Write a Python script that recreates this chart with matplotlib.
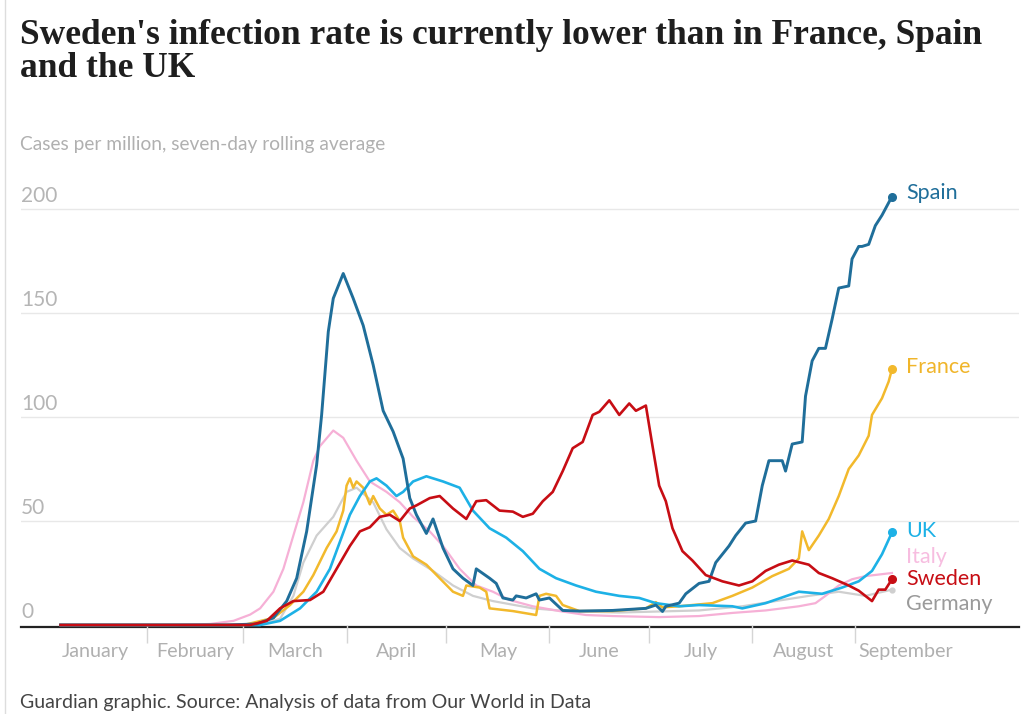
import numpy as np
import matplotlib
matplotlib.use("Agg")
import matplotlib.pyplot as plt
from matplotlib.lines import Line2D

# days counted from 1 January 2020, values = cases per million (7-day avg)
spain_day = [5, 55, 64, 69, 73, 76, 79, 82, 83.5, 85.5,
             87, 90, 93, 96, 99, 102, 105, 108, 110, 112,
             115, 117, 120, 123, 126, 129, 130, 134, 136, 138,
             141, 142, 145, 148, 149, 152, 156, 161, 171, 181,
             184, 186, 187, 191, 193, 197, 200, 202, 204, 206,
             208, 211, 214, 216, 218, 222, 223, 225, 228, 229,
             231, 233, 235, 237, 239, 242, 243, 245, 246, 248,
             250, 252, 255]
spain_val = [0, 0, 0.5, 3.4, 11.5, 22.5, 45, 77, 101, 141,
             157, 169, 157, 144, 125, 103, 93, 80, 61, 53,
             44, 51, 37, 27, 22.5, 19, 27, 22.5, 20, 13,
             12, 14, 13, 15, 12, 13, 7, 6.7, 7, 8,
             9.6, 6.5, 9, 10.5, 15, 20, 21, 30, 34, 38,
             43, 49, 50, 67, 79, 79, 74, 87, 88, 110,
             127, 133, 133, 147, 162, 163, 176, 182, 182, 183,
             192, 197, 206]

italy_day = [5, 40, 50, 57, 62, 65, 69, 72, 75, 78,
             81, 83, 87, 90, 94, 98, 103, 107, 111, 116,
             120, 125, 130, 135, 140, 147, 155, 163, 171, 179,
             185, 197, 207, 217, 227, 232, 235, 239, 243, 247,
             255]
italy_val = [0, 0, 0.5, 2, 5, 8, 16, 27, 43, 59,
             79, 86, 93.5, 90, 79, 69, 64, 59, 52, 45,
             38, 27, 19, 16, 12, 9, 6.7, 4.8, 4.3, 4,
             3.8, 4.3, 5.8, 7, 9, 10.5, 14, 19, 22, 23.5,
             25]

germany_day = [5, 65, 71, 75, 78, 82, 87, 91, 94, 99,
               103, 107, 111, 117, 123, 129, 135, 147, 157, 173,
               197, 210, 222, 230, 239, 247, 255]
germany_val = [0, 0, 3, 14, 30, 43, 52, 64, 66, 59,
               46, 37, 32, 26, 19, 14, 11.5, 8, 6.7, 6,
               7, 9, 12, 14, 16, 14, 17]

france_day = [5, 60, 69, 74, 78, 81, 85, 88, 90, 91,
              92, 93, 94, 96, 98, 99, 101, 103, 105, 107,
              108, 111, 115, 119, 123, 126, 127, 131, 133, 134,
              141, 148, 149, 151, 154, 156, 161, 171, 181, 184,
              186, 191, 201, 207, 213, 219, 224, 227, 228, 230,
              233, 236, 239, 242, 245, 248, 249, 252, 254, 255]
france_val = [0, 0, 3.4, 9.6, 16, 24, 37, 45, 55, 67,
              70.5, 66, 69, 66, 58, 62, 56, 53, 55, 50,
              42, 33, 29, 22.5, 16, 14, 19, 18, 16, 8,
              6.7, 4.8, 14, 15, 14, 9.6, 6.7, 6.7, 8, 11,
              8.5, 9, 10.5, 14, 18, 23.5, 27, 32, 45, 36,
              43, 51, 62, 75, 81.5, 91, 101, 109, 117, 123]

uk_day = [5, 65, 71, 77, 82, 86, 89, 92, 95, 98,
          100, 103, 106, 108, 111, 115, 120, 125, 129, 134,
          139, 144, 149, 154, 160, 166, 173, 179, 184, 191,
          197, 207, 210, 217, 227, 234, 240, 245, 249, 252,
          255]
uk_val = [0, 0, 2, 8, 16, 27, 40, 53, 62, 69,
          70.5, 67, 62, 64, 69, 71.5, 69, 66, 55, 46.5,
          42, 35.5, 27, 22.5, 19, 16, 14, 13, 10.5, 9,
          9.6, 9, 8, 10.5, 16, 15, 18, 21, 26, 34,
          44.5]

sweden_day = [5, 62, 67, 71, 75, 80, 84, 88, 92, 95,
              98, 101, 104, 107, 110, 112, 116, 119, 123, 127,
              130, 133, 137, 141, 144, 147, 150, 153, 156, 159,
              162, 165, 167, 170, 173, 176, 178, 181, 183, 185,
              187, 189, 192, 195, 199, 204, 209, 213, 217, 221,
              225, 230, 233, 237, 242, 245, 249, 251, 253, 255]
sweden_val = [0, 0, 2, 8, 11.5, 12, 16, 27, 38, 45,
              47, 52, 53, 50, 56, 57.5, 61, 62, 56, 51,
              59.5, 60, 55, 54.5, 52, 53.5, 59.5, 64, 74, 85,
              88, 101, 102.5, 108, 101, 106.5, 103, 105.5, 86, 67,
              59.5, 46.5, 35.5, 31, 24, 21, 19, 21, 26, 29,
              31, 29, 25, 22.5, 19, 16.5, 11.5, 17, 17, 22]

months = ["January", "February", "March", "April", "May", "June",
          "July", "August", "September"]
yticks = [0, 50, 100, 150, 200]

# label y positions (data units) for the end labels
labels = ["Spain", "France", "UK", "Italy", "Sweden", "Germany"]
label_y = [207.5, 124, 45, 32.5, 22, 10]

col = {"Spain": "#1f6e9a", "France": "#f2b92c", "UK": "#1db1e6",
       "Italy": "#f6b0d6", "Sweden": "#c70d14", "Germany": "#cfcfcf"}
txtcol = {"Spain": "#1f6e9a", "France": "#f0b52a", "UK": "#1db1e6",
          "Italy": "#f7bde0", "Sweden": "#c70d14", "Germany": "#9a9a9a"}

sans = ["Lato", "DejaVu Sans"]

fig = plt.figure(figsize=(10.24, 7.14), dpi=100)
W, H = 1024, 714
ax = fig.add_axes([21 / W, (H - 625) / H, 998 / W, (625 - 179) / H])
ax.set_xlim(-6.9, 293.2)
ax.set_ylim(0, (625 - 179) / 2.08)

for v in yticks[1:]:
    ax.axhline(v, color="#e8e8e8", lw=1, zorder=0)
for v in yticks:
    ax.annotate(str(v), xy=(0, v), xycoords=("axes fraction", "data"),
                xytext=(0, 5), textcoords="offset points", va="baseline",
                ha="left", color="#b5b5b5", fontsize=15, family=sans)

# baseline sits just under the zero level of the lines
ax.axhline(-1.1, color="#222222", lw=1.6, zorder=1, clip_on=False)

series = [("Germany", germany_day, germany_val, 1.6),
          ("Italy", italy_day, italy_val, 1.6),
          ("France", france_day, france_val, 1.8),
          ("UK", uk_day, uk_val, 1.9),
          ("Spain", spain_day, spain_val, 2.1),
          ("Sweden", sweden_day, sweden_val, 1.9)]
for name, d, v, lw in series:
    ax.plot(d, v, color=col[name], lw=lw, clip_on=False, zorder=3,
            solid_joinstyle="round")
    if name != "Italy":
        ms = 3.5 if name == "Germany" else 5.5
        ax.plot(d[-1], v[-1], "o", color=col[name], ms=ms, zorder=4,
                clip_on=False)

for name, y in zip(labels, label_y):
    ax.annotate(name, xy=(255, y), xytext=(10, 0), textcoords="offset points",
                va="center", ha="left", color=txtcol[name], fontsize=15.5,
                family=sans, annotation_clip=False)

# month ticks and labels
starts = [(np.datetime64("2020-%02d-01" % m) - np.datetime64("2020-01-01")).astype(int)
          for m in range(1, 11)]
ax.set_xticks(starts[1:9])
ax.tick_params(axis="x", which="major", length=13, color="#d5d5d5", width=1,
               labelbottom=False)
mids = [(starts[i] + starts[i + 1]) / 2 for i in range(9)]
ax.set_xticks(mids, minor=True)
ax.set_xticklabels(months, minor=True, family=sans, fontsize=14.2,
                   color="#b0b0b0")
ax.tick_params(axis="x", which="minor", length=0, pad=13)
ax.set_yticks([])
for s in ax.spines.values():
    s.set_visible(False)

fig.text(20 / W, 1 - 19 / H,
         "Sweden's infection rate is currently lower than in France, Spain\nand the UK",
         va="top", ha="left", fontsize=25.5, weight="bold",
         family="Liberation Serif", color="#1e1e1e", linespacing=1.0)
fig.text(20 / W, 1 - 150 / H, "Cases per million, seven-day rolling average",
         va="baseline", ha="left", fontsize=13.8, family=sans, color="#b0b0b0")
fig.text(20 / W, 1 - 708 / H,
         "Guardian graphic. Source: Analysis of data from Our World in Data",
         va="baseline", ha="left", fontsize=14, family=sans, color="#444444")
fig.add_artist(Line2D([5 / W, 5 / W], [0, 1], color="#dddddd", lw=1))

fig.savefig("out.png", dpi=100)
